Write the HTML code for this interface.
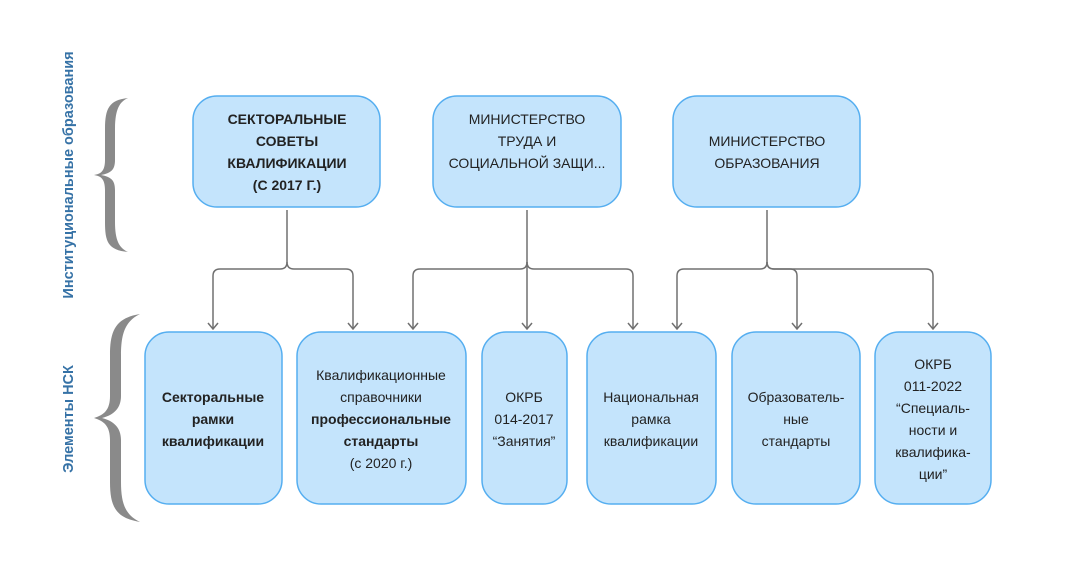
<!DOCTYPE html>
<html><head><meta charset="utf-8"><style>
html,body{margin:0;padding:0;background:#fff;}
svg{display:block;}
text{font-family:"Liberation Sans","DejaVu Sans",sans-serif;font-size:14px;fill:#222;}
.b{font-weight:bold;}
.lab{fill:#3672a6;font-weight:bold;font-size:14.5px;}
</style></head><body>
<svg width="1067" height="586" viewBox="0 0 1067 586" xmlns="http://www.w3.org/2000/svg">
<defs>
<marker id="ah" markerWidth="12" markerHeight="10" refX="6" refY="9" orient="0" markerUnits="userSpaceOnUse">
<path d="M1,3 L6,9 L11,3" fill="none" stroke="#707070" stroke-width="1.5"/>
</marker>
</defs>
<g fill="#c4e4fc" stroke="#55aef0" stroke-width="1.5">
<rect x="193" y="96" width="187" height="111" rx="24"/>
<rect x="433" y="96" width="188" height="111" rx="24"/>
<rect x="673" y="96" width="187" height="111" rx="24"/>
<rect x="145" y="332" width="137" height="172" rx="24"/>
<rect x="297" y="332" width="169" height="172" rx="24"/>
<rect x="482" y="332" width="85" height="172" rx="24"/>
<rect x="587" y="332" width="129" height="172" rx="24"/>
<rect x="732" y="332" width="128" height="172" rx="24"/>
<rect x="875" y="332" width="116" height="172" rx="24"/>
</g>
<g fill="none" stroke="#707070" stroke-width="1.5">
<path d="M287,210 V262 Q287,269 280,269 H220 Q213,269 213,276 V329" marker-end="url(#ah)"/>
<path d="M287,262 Q287,269 294,269 H346 Q353,269 353,276 V329" marker-end="url(#ah)"/>
<path d="M527,210 V329" marker-end="url(#ah)"/>
<path d="M527,262 Q527,269 520,269 H420 Q413,269 413,276 V329" marker-end="url(#ah)"/>
<path d="M527,262 Q527,269 534,269 H626 Q633,269 633,276 V329" marker-end="url(#ah)"/>
<path d="M767,210 V262 Q767,269 760,269 H684 Q677,269 677,276 V329" marker-end="url(#ah)"/>
<path d="M767,262 Q767,269 774,269 H790 Q797,269 797,276 V329" marker-end="url(#ah)"/>
<path d="M767,262 Q767,269 774,269 H926 Q933,269 933,276 V329" marker-end="url(#ah)"/>
</g>
<!-- braces -->
<path d="M128,98 C108,100 105,110 105,130 L105,160 C105,172 100,174 94,175 C100,176 105,178 105,190 L105,222 C105,242 108,250 128,252 C119,248 115,240 115,222 L115,190 C115,180 111,177 101,175 C111,173 115,170 115,160 L115,130 C115,110 119,102 128,98 Z" fill="#8a8a8a"/>
<path d="M140,314 C116,318 110,330 110,355 L110,396 C110,410 104,415 94,418 C104,421 110,426 110,440 L110,482 C110,507 116,518 140,522 C126,515 121,505 121,482 L121,440 C121,428 114,421 102,418 C114,415 121,408 121,396 L121,355 C121,332 126,321 140,314 Z" fill="#8a8a8a"/>
<text class="lab" transform="translate(73,175) rotate(-90)" text-anchor="middle">Институциональные образования</text>
<text class="lab" transform="translate(73,419) rotate(-90)" text-anchor="middle">Элементы НСК</text>
<g text-anchor="middle">
<text class="b" x="287" y="124">СЕКТОРАЛЬНЫЕ</text>
<text class="b" x="287" y="146">СОВЕТЫ</text>
<text class="b" x="287" y="168">КВАЛИФИКАЦИИ</text>
<text class="b" x="287" y="190">(С 2017 Г.)</text>
<text x="527" y="124">МИНИСТЕРСТВО</text>
<text x="527" y="146">ТРУДА И</text>
<text x="527" y="168">СОЦИАЛЬНОЙ ЗАЩИ...</text>
<text x="767" y="146">МИНИСТЕРСТВО</text>
<text x="767" y="168">ОБРАЗОВАНИЯ</text>
<text class="b" x="213" y="402">Секторальные</text>
<text class="b" x="213" y="424">рамки</text>
<text class="b" x="213" y="446">квалификации</text>
<text x="381" y="380">Квалификационные</text>
<text x="381" y="402">справочники</text>
<text class="b" x="381" y="424">профессиональные</text>
<text class="b" x="381" y="446">стандарты</text>
<text x="381" y="468">(с 2020 г.)</text>
<text x="524" y="402">ОКРБ</text>
<text x="524" y="424">014-2017</text>
<text x="524" y="446">“Занятия”</text>
<text x="651" y="402">Национальная</text>
<text x="651" y="424">рамка</text>
<text x="651" y="446">квалификации</text>
<text x="796" y="402">Образователь-</text>
<text x="796" y="424">ные</text>
<text x="796" y="446">стандарты</text>
<text x="933" y="369">ОКРБ</text>
<text x="933" y="391">011-2022</text>
<text x="933" y="413">“Специаль-</text>
<text x="933" y="435">ности и</text>
<text x="933" y="457">квалифика-</text>
<text x="933" y="479">ции”</text>
</g>
</svg>
</body></html>
